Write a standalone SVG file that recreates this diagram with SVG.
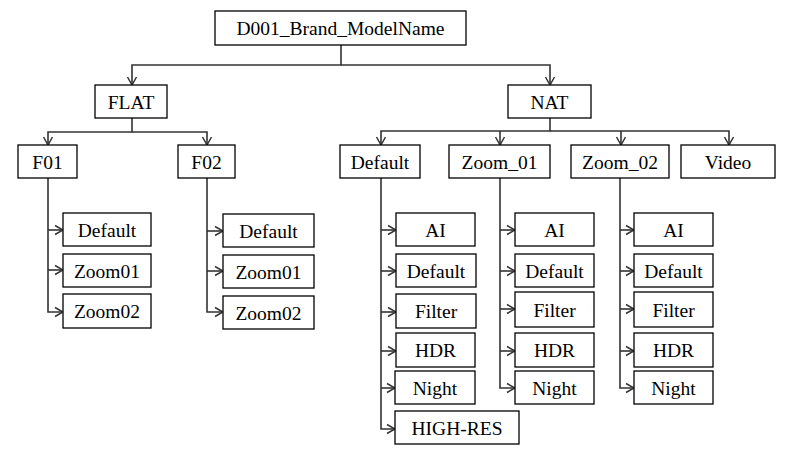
<svg xmlns="http://www.w3.org/2000/svg" width="785" height="461" viewBox="0 0 785 461">
<style>
.n rect{fill:#fff;stroke:#000;stroke-width:1.3}
.n text{font-family:'Liberation Serif','Times New Roman','DejaVu Serif',serif;font-size:19.5px;fill:#000;text-anchor:middle}
#connectors path{fill:none;stroke:#333;stroke-width:1.6;marker-end:url(#ah)}
</style>
<defs>
<marker id="ah" markerUnits="userSpaceOnUse" markerWidth="12" markerHeight="12" viewBox="0 0 12 12" refX="11" refY="6" orient="auto">
<path d="M3,1.5 L11,6 L3,10.5" fill="none" stroke="#333" stroke-width="1.5"/>
</marker>
</defs>
<rect width="785" height="461" fill="#fff"/>
<g id="connectors">
<path d="M341,45 V65 H132 V85"/>
<path d="M341,65 H550 V85"/>
<path d="M132,118 V132 H48 V145"/>
<path d="M132,132 H207 V145"/>
<path d="M48,178 V312 H63"/>
<path d="M48,230 H63"/>
<path d="M48,270 H63"/>
<path d="M207,178 V312 H223"/>
<path d="M207,231 H223"/>
<path d="M207,271 H223"/>
<path d="M550,118 V131 H381 V145"/>
<path d="M550,131 H729 V145"/>
<path d="M500,131 V145"/>
<path d="M621,131 V145"/>
<path d="M381,178 V429 H395"/>
<path d="M381,230 H396"/>
<path d="M381,271 H396"/>
<path d="M381,312 H396"/>
<path d="M381,351 H396"/>
<path d="M381,388 H395"/>
<path d="M500,178 V388 H515"/>
<path d="M500,230 H515"/>
<path d="M500,271 H515"/>
<path d="M500,309 H515"/>
<path d="M500,351 H515"/>
<path d="M620,178 V388 H634"/>
<path d="M620,230 H634"/>
<path d="M620,271 H634"/>
<path d="M620,309 H634"/>
<path d="M620,351 H634"/>
</g>
<g id="root" class="n"><rect x="215" y="11" width="251" height="34"/><text x="340.5" y="35">D001_Brand_ModelName</text></g>
<g id="flat" class="n"><rect x="95" y="85" width="72" height="33"/><text x="131" y="108.5">FLAT</text></g>
<g id="nat" class="n"><rect x="508" y="85" width="83" height="33"/><text x="549.5" y="108.5">NAT</text></g>
<g id="f01" class="n"><rect x="18" y="145" width="59" height="33"/><text x="47.5" y="168.5">F01</text></g>
<g id="f02" class="n"><rect x="178" y="145" width="57" height="33"/><text x="206.5" y="168.5">F02</text></g>
<g id="f01-default" class="n"><rect x="63" y="213" width="88" height="33"/><text x="107" y="236.5">Default</text></g>
<g id="f01-zoom01" class="n"><rect x="63" y="254" width="88" height="33"/><text x="107" y="277.5">Zoom01</text></g>
<g id="f01-zoom02" class="n"><rect x="63" y="294" width="88" height="34"/><text x="107" y="318">Zoom02</text></g>
<g id="f02-default" class="n"><rect x="223" y="214" width="91" height="33"/><text x="268.5" y="237.5">Default</text></g>
<g id="f02-zoom01" class="n"><rect x="223" y="255" width="91" height="33"/><text x="268.5" y="278.5">Zoom01</text></g>
<g id="f02-zoom02" class="n"><rect x="223" y="296" width="91" height="33"/><text x="268.5" y="319.5">Zoom02</text></g>
<g id="nat-default" class="n"><rect x="340" y="145" width="80" height="33"/><text x="380" y="168.5">Default</text></g>
<g id="nat-zoom01" class="n"><rect x="449" y="145" width="101" height="33"/><text x="499.5" y="168.5">Zoom_01</text></g>
<g id="nat-zoom02" class="n"><rect x="571" y="145" width="98" height="33"/><text x="620" y="168.5">Zoom_02</text></g>
<g id="nat-video" class="n"><rect x="681" y="145" width="94" height="33"/><text x="728" y="168.5">Video</text></g>
<g id="d-ai" class="n"><rect x="396" y="213" width="79" height="33"/><text x="435.5" y="236.5">AI</text></g>
<g id="d-default" class="n"><rect x="396" y="254" width="80" height="33"/><text x="436" y="277.5">Default</text></g>
<g id="d-filter" class="n"><rect x="396" y="294" width="80" height="34"/><text x="436" y="318">Filter</text></g>
<g id="d-hdr" class="n"><rect x="396" y="333" width="79" height="34"/><text x="435.5" y="357">HDR</text></g>
<g id="d-night" class="n"><rect x="395" y="371" width="80" height="33"/><text x="435" y="394.5">Night</text></g>
<g id="d-highres" class="n"><rect x="395" y="411" width="124" height="33"/><text x="457" y="434.5">HIGH-RES</text></g>
<g id="z1-ai" class="n"><rect x="515" y="213" width="79" height="33"/><text x="554.5" y="236.5">AI</text></g>
<g id="z1-default" class="n"><rect x="515" y="254" width="79" height="33"/><text x="554.5" y="277.5">Default</text></g>
<g id="z1-filter" class="n"><rect x="515" y="292" width="79" height="35"/><text x="554.5" y="316.5">Filter</text></g>
<g id="z1-hdr" class="n"><rect x="515" y="333" width="79" height="34"/><text x="554.5" y="357">HDR</text></g>
<g id="z1-night" class="n"><rect x="515" y="371" width="79" height="33"/><text x="554.5" y="394.5">Night</text></g>
<g id="z2-ai" class="n"><rect x="634" y="213" width="79" height="33"/><text x="673.5" y="236.5">AI</text></g>
<g id="z2-default" class="n"><rect x="634" y="254" width="79" height="33"/><text x="673.5" y="277.5">Default</text></g>
<g id="z2-filter" class="n"><rect x="634" y="292" width="79" height="35"/><text x="673.5" y="316.5">Filter</text></g>
<g id="z2-hdr" class="n"><rect x="634" y="333" width="79" height="34"/><text x="673.5" y="357">HDR</text></g>
<g id="z2-night" class="n"><rect x="634" y="371" width="79" height="33"/><text x="673.5" y="394.5">Night</text></g>
</svg>
